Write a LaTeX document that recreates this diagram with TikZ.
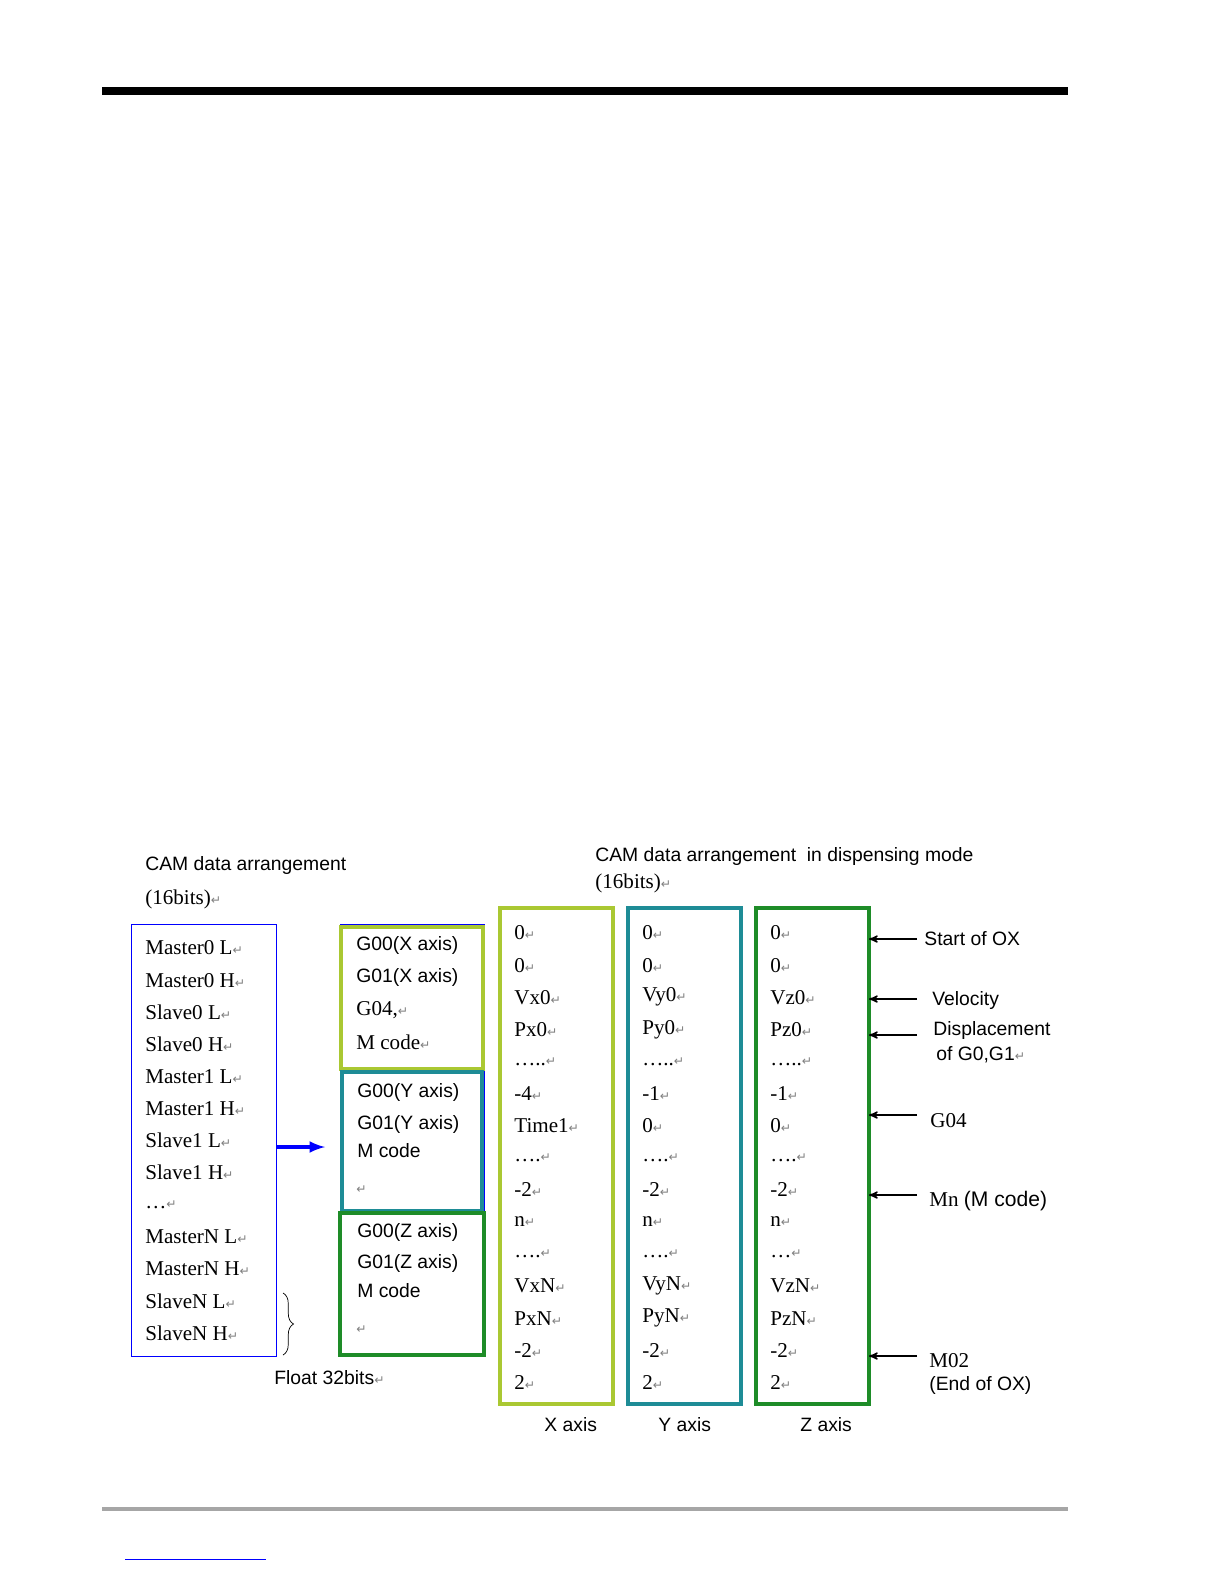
\documentclass[tikz,border=0pt]{standalone}
\usepackage{fontspec}
\setmainfont{Liberation Serif}
\newfontfamily\arialf{Liberation Sans}
\newfontfamily\symf{DejaVu Sans}
\usetikzlibrary{arrows,shapes,decorations.pathreplacing}
\definecolor{limeg}{RGB}{170,200,50}
\definecolor{tealc}{RGB}{30,140,150}
\definecolor{darkg}{RGB}{30,140,40}
\newcommand{\ret}{{\symf\color{gray}\scriptsize ↵}}
\tikzset{
  cell/.style={anchor=west,inner sep=0pt,font=\fontsize{12}{14}\selectfont},
  acell/.style={anchor=west,inner sep=0pt,font=\arialf\fontsize{11}{13}\selectfont},
  colbox/.style={line width=2.5pt},
  note/.style={->,>=stealth',thick}
}
\begin{document}
\begin{tikzpicture}[x=0.02cm,y=-0.02cm]
                \useasboundingbox (0,0) rectangle (1224,1584);
                \draw[line width=4pt] (102,91) -- (1068,91);
                \draw[line width=2.5pt,gray!70] (102,1509) -- (1068,1509);
                \draw[blue,thin] (125,1559) -- (266,1559);
                % left column
                \node[acell](t1)at(145,865){CAM data arrangement};
                \node[cell](t1b)at(145,899){(16bits)\ret};
                \draw[blue] (131,924) rectangle (276,1356);
                \foreach \t [count=\i from 0] in {Master0 L,Master0 H,Slave0 L,Slave0 H,Master1 L,Master1 H,Slave1 L,Slave1 H,\dots,MasterN L,MasterN H,SlaveN L,SlaveN H}
                    \node[cell](L\i)at(145,948+32.1*\i){\t\ret};
                \draw[decorate,decoration={brace,amplitude=6pt}] (283,1293) -- (283,1355);
                \node[acell](fl)at(274,1378){Float 32bits\ret};
                \coordinate(a1)at(276,1147);
                \coordinate(a2)at(325,1147);
                \draw[->,>=latex,blue,line width=2pt] (a1) -- (a2);
                % float boxes
                \draw[blue] (340,924) rectangle (484,1355);
                \draw[colbox,limeg] (341,927) rectangle (483,1069);
                \draw[colbox,tealc] (342,1072) rectangle (482,1211);
                \draw[colbox,darkg] (340,1213) rectangle (484,1355);
                \node[acell](g1)at(356,945){G00(X axis)};
                \node[acell](g2)at(356,977){G01(X axis)};
                \node[cell](g3)at(356,1010){G04,\ret};
                \node[cell](g4)at(356,1042){M code\ret};
                \node[acell](g5)at(357,1092){G00(Y axis)};
                \node[acell](g6)at(357,1124){G01(Y axis)};
                \node[acell](g7)at(357,1151){M code};
                \node[cell](g8)at(356,1190){\ret};
                \node[acell](g9)at(357,1232){G00(Z axis)};
                \node[acell](g10)at(357,1263){G01(Z axis)};
                \node[acell](g11)at(357,1291){M code};
                \node[cell](g12)at(356,1330){\ret};
                % axis columns
                \node[acell](t2)at(595,856){CAM data arrangement \ in dispensing mode};
                \node[cell](t2b)at(595,883){(16bits)\ret};
                \draw[colbox,limeg] (500,908) rectangle (613,1404);
                \draw[colbox,tealc] (628,908) rectangle (741,1404);
                \draw[colbox,darkg] (756,908) rectangle (869,1404);
                \foreach \t [count=\i from 0] in {0,0,Vx0,Px0,\dots..,-4,Time1,\dots.,-2,n,\dots.,VxN,PxN,-2,2}
                    \node[cell](X\i)at(514,933+32.1*\i){\t\ret};
                \foreach \t [count=\i from 0] in {0,0,Vy0,Py0,\dots..,-1,0,\dots.,-2,n,\dots.,VyN,PyN,-2,2}
                    \node[cell](Y\i)at(642,933+32.1*\i){\t\ret};
                \foreach \t [count=\i from 0] in {0,0,Vz0,Pz0,\dots..,-1,0,\dots.,-2,n,\dots,VzN,PzN,-2,2}
                    \node[cell](Z\i)at(770,933+32.1*\i){\t\ret};
                \node[acell](xa)at(544,1425){X axis};
                \node[acell](ya)at(658,1425){Y axis};
                \node[acell](za)at(800,1425){Z axis};
                % notes
                \node[acell](n1)at(924,939){Start of OX};
                \node[acell](n2)at(932,1000){Velocity};
                \node[acell](n3)at(933,1030){Displacement};
                \node[cell,font=\arialf\fontsize{11}{13}\selectfont](n3b)at(936,1055){of G0,G1\ret};
                \node[cell](n4)at(930,1121){G04};
                \node[cell](n5)at(929,1201){Mn \arialf(M code)};
                \node[cell](n6)at(929,1361){M02};
                \node[acell](n6b)at(929,1385){(End of OX)};
                \foreach \y in {939,999,1035,1115,1195,1356}
                    \draw[note] (917,\y) -- (869,\y);
            \end{tikzpicture}
\end{document}
